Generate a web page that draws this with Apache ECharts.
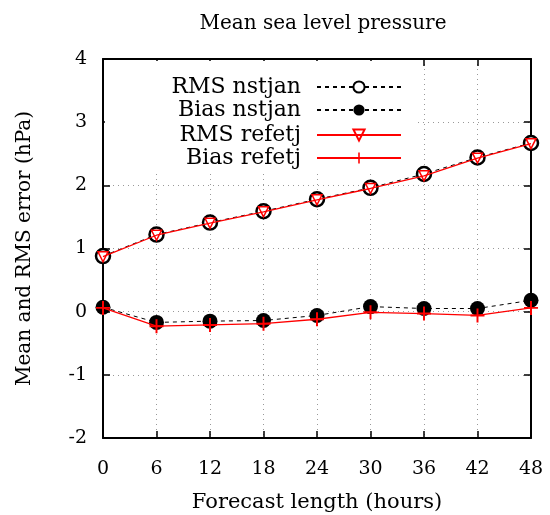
<!DOCTYPE html>
<html><head><meta charset="utf-8">
<script src="https://cdn.jsdelivr.net/npm/echarts@6/dist/echarts.min.js"></script>
<style>html,body{margin:0;padding:0;background:#fff}#c{width:550px;height:515px}</style>
</head><body><div id="c"></div>
<script>
const hours = [0, 6, 12, 18, 24, 30, 36, 42, 48];
const rmsNstjan = [0.88, 1.22, 1.41, 1.59, 1.78, 1.96, 2.18, 2.44, 2.67];
const biasNstjan = [0.07, -0.17, -0.15, -0.14, -0.06, 0.08, 0.05, 0.05, 0.18];
const rmsRefetj = [0.87, 1.21, 1.40, 1.58, 1.77, 1.95, 2.15, 2.43, 2.66];
const biasRefetj = [0.06, -0.23, -0.21, -0.19, -0.12, -0.01, -0.03, -0.06, 0.06];
const yTicks = [-2, -1, 0, 1, 2, 3, 4];
const names = ['RMS nstjan', 'Bias nstjan', 'RMS refetj', 'Bias refetj'];

const FONT = 'DejaVu Serif';
const pair = arr => hours.map((h, i) => [h, arr[i]]);
const plus = 'path://M4.3,0h1.4v10h-1.4z M0,4.3h10v1.4h-10z';

const chart = echarts.init(document.getElementById('c'), null, {renderer: 'canvas'});
const legendTops = [76, 99, 124, 147];
const legendRights = 148;
const axisBase = {
  type: 'value',
  axisLine: {show: true, onZero: false, lineStyle: {color: '#000', width: 2}},
  axisTick: {show: true, inside: true, length: 7, lineStyle: {color: '#000', width: 1.5}}
};
chart.setOption({
  animation: false,
  backgroundColor: '#fff',
  textStyle: {fontFamily: FONT, color: '#000'},
  title: {text: 'Mean sea level pressure', left: 318, top: 9, textAlign: 'center',
    textStyle: {fontFamily: FONT, fontWeight: 'normal', fontSize: 20, color: '#000'}},
  grid: {left: 103, right: 19, top: 59, bottom: 77, containLabel: false, outerBoundsMode: 'none'},
  graphic: [{type: 'rect', shape: {x: 105, y: 61, width: 312, height: 111},
    style: {fill: '#fff'}, z: 1, silent: true}],
  legend: names.map((n, i) => ({
    data: [n], top: legendTops[i], right: legendRights, align: 'right', orient: 'vertical',
    itemWidth: 84, itemHeight: 14, itemGap: 0, padding: 0, selectedMode: false, z: 5,
    textStyle: {fontFamily: FONT, fontSize: 22, color: '#000', padding: [0, 11, 0, 0]}
  })),
  xAxis: [Object.assign({}, axisBase, {
    min: 0, max: 48, interval: 6,
    name: 'Forecast length (hours)', nameLocation: 'middle', nameGap: 54,
    nameTextStyle: {fontFamily: FONT, fontSize: 21, color: '#000'},
    axisLabel: {fontFamily: FONT, fontSize: 19, color: '#000', margin: 22},
    splitLine: {show: true, lineStyle: {color: '#999', type: [1, 4], width: 1}}
  }), Object.assign({}, axisBase, {
    min: 0, max: 48, interval: 6, position: 'top',
    axisLabel: {show: false}, splitLine: {show: false}
  })],
  yAxis: [Object.assign({}, axisBase, {
    min: -2, max: 4, interval: 1,
    name: 'Mean and RMS error (hPa)', nameLocation: 'middle', nameGap: 68, nameRotate: 90,
    nameTextStyle: {fontFamily: FONT, fontSize: 20, color: '#000'},
    axisLabel: {fontFamily: FONT, fontSize: 19, color: '#000', margin: 16,
      formatter: v => yTicks.includes(v) ? String(v) : ''},
    splitLine: {show: true, lineStyle: {color: '#999', type: [1, 4], width: 1}}
  }), Object.assign({}, axisBase, {
    min: -2, max: 4, interval: 1, position: 'right',
    axisLabel: {show: false}, splitLine: {show: false}
  })],
  series: [
    {name: names[0], type: 'line', data: pair(rmsNstjan), symbol: 'circle', symbolSize: 14,
      lineStyle: {color: '#000', width: 1, type: [4, 4]},
      itemStyle: {color: '#fff', borderColor: '#000', borderWidth: 2.5}, z: 3},
    {name: names[1], type: 'line', data: pair(biasNstjan), symbol: 'circle', symbolSize: 15,
      lineStyle: {color: '#000', width: 1, type: [4, 4]},
      itemStyle: {color: '#000'}, z: 3},
    {name: names[2], type: 'line', data: pair(rmsRefetj), symbol: 'triangle', symbolRotate: 180, symbolSize: 10,
      lineStyle: {color: '#ff0000', width: 1.3},
      itemStyle: {color: 'rgba(255,255,255,0)', borderColor: '#ff0000', borderWidth: 1.5}, z: 4},
    {name: names[3], type: 'line', data: pair(biasRefetj), symbol: plus, symbolSize: 14,
      lineStyle: {color: '#ff0000', width: 1.3},
      itemStyle: {color: '#ff0000'}, z: 4}
  ]
});
</script></body></html>
